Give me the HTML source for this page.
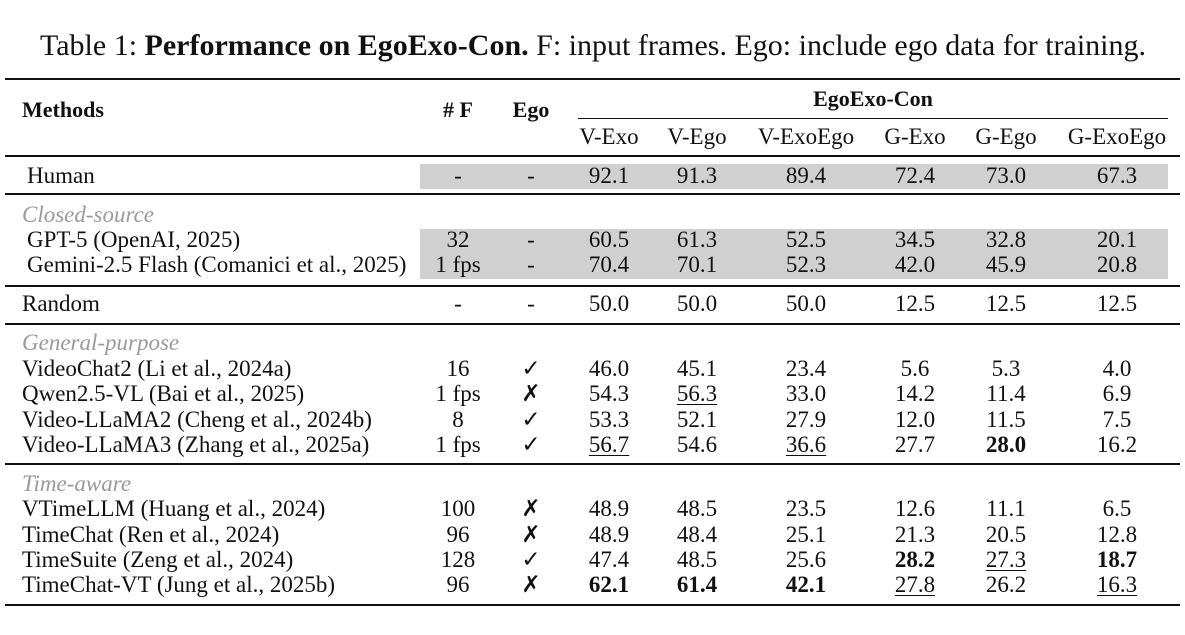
<!DOCTYPE html>
<html><head><meta charset="utf-8"><style>
body{margin:0;background:#fff;width:1185px;height:635px;overflow:hidden;position:relative;font-family:"Liberation Serif",serif;color:#111;}
.t{position:absolute;height:26px;line-height:26px;font-size:23px;white-space:nowrap;}
.c{transform:translateX(-50%);}
.l{position:absolute;background:#111;}
.g{position:absolute;background:#d0d0d0;}
.gr{color:#999;font-style:italic;}
b{font-weight:bold;}
u{text-decoration:underline;text-underline-offset:3px;text-decoration-thickness:1px;}
</style></head><body>
<div class="t c" style="left:593px;top:30px;font-size:30px;height:32px;line-height:32px">Table 1: <b>Performance on EgoExo-Con.</b> F: input frames. Ego: include ego data for training.</div>
<div class="l" style="left:5px;top:78px;width:1175px;height:2px"></div>
<div class="l" style="left:578px;top:118px;width:590px;height:1px"></div>
<div class="l" style="left:5px;top:155px;width:1175px;height:1.5px"></div>
<div class="l" style="left:5px;top:193px;width:1175px;height:1.5px"></div>
<div class="l" style="left:5px;top:285px;width:1175px;height:1.5px"></div>
<div class="l" style="left:5px;top:323px;width:1175px;height:1.5px"></div>
<div class="l" style="left:5px;top:463px;width:1175px;height:1.5px"></div>
<div class="l" style="left:5px;top:604px;width:1175px;height:2px"></div>
<div class="g" style="left:420px;top:164px;width:748px;height:25px"></div>
<div class="g" style="left:420px;top:229px;width:748px;height:50px"></div>
<div id="rows"></div>
<script>
var H=[["Methods",22,110,1],["# F",458,110,1,1],["Ego",531,110,1,1],["EgoExo-Con",873,99,1,1]];
var cols=[609,697,806,915,1006,1117];
var out='';
H.forEach(function(h){out+='<div class="t'+(h[4]?' c':'')+'" style="font-size:22px;left:'+h[1]+'px;top:'+(h[2]-13)+'px"><b>'+h[0]+'</b></div>';});
["V-Exo","V-Ego","V-ExoEgo","G-Exo","G-Ego","G-ExoEgo"].forEach(function(s,i){out+='<div class="t c" style="left:'+cols[i]+'px;top:124px">'+s+'</div>';});
var R=[
[176,"Human","-","-","92.1","91.3","89.4","72.4","73.0","67.3",27],
[215,"<span class=gr>Closed-source</span>"],
[240,"GPT-5 (OpenAI, 2025)","32","-","60.5","61.3","52.5","34.5","32.8","20.1",27],
[265,"Gemini-2.5 Flash (Comanici et al., 2025)","1 fps","-","70.4","70.1","52.3","42.0","45.9","20.8",27],
[304,"Random","-","-","50.0","50.0","50.0","12.5","12.5","12.5"],
[343,"<span class=gr>General-purpose</span>"],
[369,"VideoChat2 (Li et al., 2024a)","16","✓","46.0","45.1","23.4","5.6","5.3","4.0"],
[394,"Qwen2.5-VL (Bai et al., 2025)","1 fps","✗","54.3","<u>56.3</u>","33.0","14.2","11.4","6.9"],
[420,"Video-LLaMA2 (Cheng et al., 2024b)","8","✓","53.3","52.1","27.9","12.0","11.5","7.5"],
[445,"Video-LLaMA3 (Zhang et al., 2025a)","1 fps","✓","<u>56.7</u>","54.6","<u>36.6</u>","27.7","<b>28.0</b>","16.2"],
[484,"<span class=gr>Time-aware</span>"],
[509,"VTimeLLM (Huang et al., 2024)","100","✗","48.9","48.5","23.5","12.6","11.1","6.5"],
[535,"TimeChat (Ren et al., 2024)","96","✗","48.9","48.4","25.1","21.3","20.5","12.8"],
[560,"TimeSuite (Zeng et al., 2024)","128","✓","47.4","48.5","25.6","<b>28.2</b>","<u>27.3</u>","<b>18.7</b>"],
[585,"TimeChat-VT (Jung et al., 2025b)","96","✗","<b>62.1</b>","<b>61.4</b>","<b>42.1</b>","<u>27.8</u>","26.2","<u>16.3</u>"]
];
var xs=[458,531].concat(cols);
R.forEach(function(r){
 out+='<div class="t" style="left:'+(r[10]||22)+'px;top:'+(r[0]-13)+'px">'+r[1]+'</div>';
 for(var i=2;i<10&&r[i]!==undefined;i++){
  var v=r[i];if(v=="✓"||v=="✗")v='<span style="font-family:DejaVu Sans;font-size:23px;font-weight:bold">'+v+'</span>';
  out+='<div class="t c" style="left:'+xs[i-2]+'px;top:'+(r[0]-13)+'px">'+v+'</div>';
 }
});
document.getElementById('rows').innerHTML=out;
</script>
</body></html>
